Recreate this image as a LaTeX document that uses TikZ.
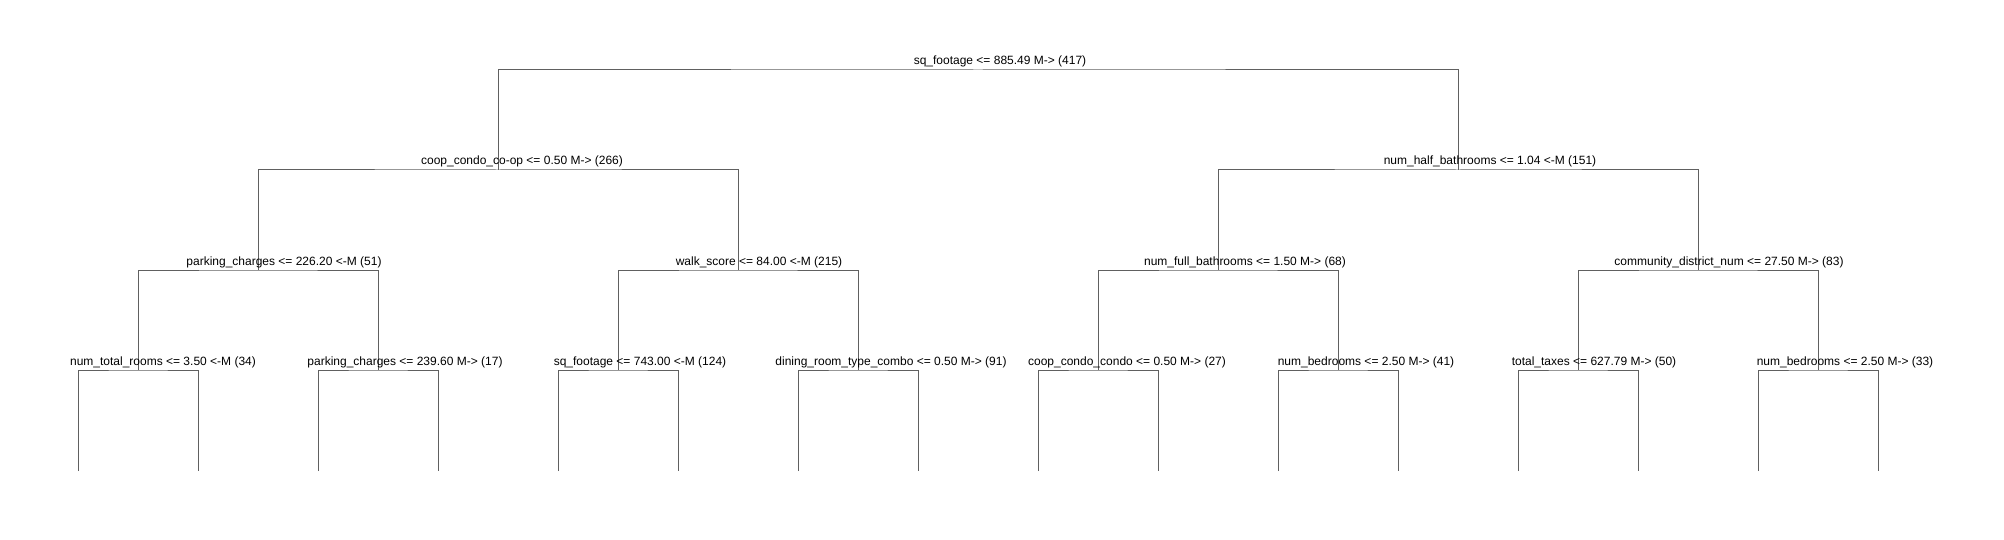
\documentclass[tikz,border=0pt]{standalone}
\usepackage{fontspec}
\setmainfont{Liberation Sans}
\usetikzlibrary{positioning}
\definecolor{branch}{RGB}{96,96,96}

\begin{document}
\begin{tikzpicture}[x=1pt,y=-1pt,
	split/.style={anchor=base, inner sep=0pt, font=\fontsize{12}{14}\selectfont},
	edge/.style={draw=branch, line width=1pt}]
\useasboundingbox (0,0) rectangle (2004,540);
% branch points
\coordinate (n0) at (978,70);
\coordinate (n1) at (498,170);
\coordinate (n2) at (1458,170);
\coordinate (n3) at (258,270);
\coordinate (n4) at (738,270);
\coordinate (n5) at (1218,270);
\coordinate (n6) at (1698,270);
\foreach \j in {0,...,7}{
	\pgfmathtruncatemacro{\p}{\j+7}
	\coordinate (n\p) at ({138+240*\j},370);
}
\foreach \i in {0,...,15} \coordinate (leaf\i) at ({78+120*\i},471);

% tree lines
\draw[edge] (n1) |- (n0) -| (n2);
\draw[edge] (n3) |- (n1) -| (n4);
\draw[edge] (n5) |- (n2) -| (n6);
\draw[edge] (n7) |- (n3) -| (n8);
\draw[edge] (n9) |- (n4) -| (n10);
\draw[edge] (n11) |- (n5) -| (n12);
\draw[edge] (n13) |- (n6) -| (n14);
\foreach \j in {0,...,7}{
	\pgfmathtruncatemacro{\p}{\j+7}
	\pgfmathtruncatemacro{\a}{2*\j}
	\pgfmathtruncatemacro{\b}{2*\j+1}
	\draw[edge] (leaf\a) |- (n\p) -| (leaf\b);
}

% split labels
\node[split] (s0) at (1000,65) {sq\_footage <= 885.49 M-> (417)};
\node[split] (s1) at (522,165) {coop\_condo\_co-op <= 0.50 M-> (266)};
\node[split] (s2) at (1490,165) {num\_half\_bathrooms <= 1.04 <-M (151)};
\node[split] (s3) at (284,265) {parking\_charges <= 226.20 <-M (51)};
\node[split] (s4) at (759,265) {walk\_score <= 84.00 <-M (215)};
\node[split] (s5) at (1245,265) {num\_full\_bathrooms <= 1.50 M-> (68)};
\node[split] (s6) at (1729,265) {community\_district\_num <= 27.50 M-> (83)};
\node[split] (s7) at (163,365) {num\_total\_rooms <= 3.50 <-M (34)};
\node[split] (s8) at (405,365) {parking\_charges <= 239.60 M-> (17)};
\node[split] (s9) at (640,365) {sq\_footage <= 743.00 <-M (124)};
\node[split] (s10) at (891,365) {dining\_room\_type\_combo <= 0.50 M-> (91)};
\node[split] (s11) at (1127,365) {coop\_condo\_condo <= 0.50 M-> (27)};
\node[split] (s12) at (1366,365) {num\_bedrooms <= 2.50 M-> (41)};
\node[split] (s13) at (1594,365) {total\_taxes <= 627.79 M-> (50)};
\node[split] (s14) at (1845,365) {num\_bedrooms <= 2.50 M-> (33)};
\end{tikzpicture}
\end{document}
